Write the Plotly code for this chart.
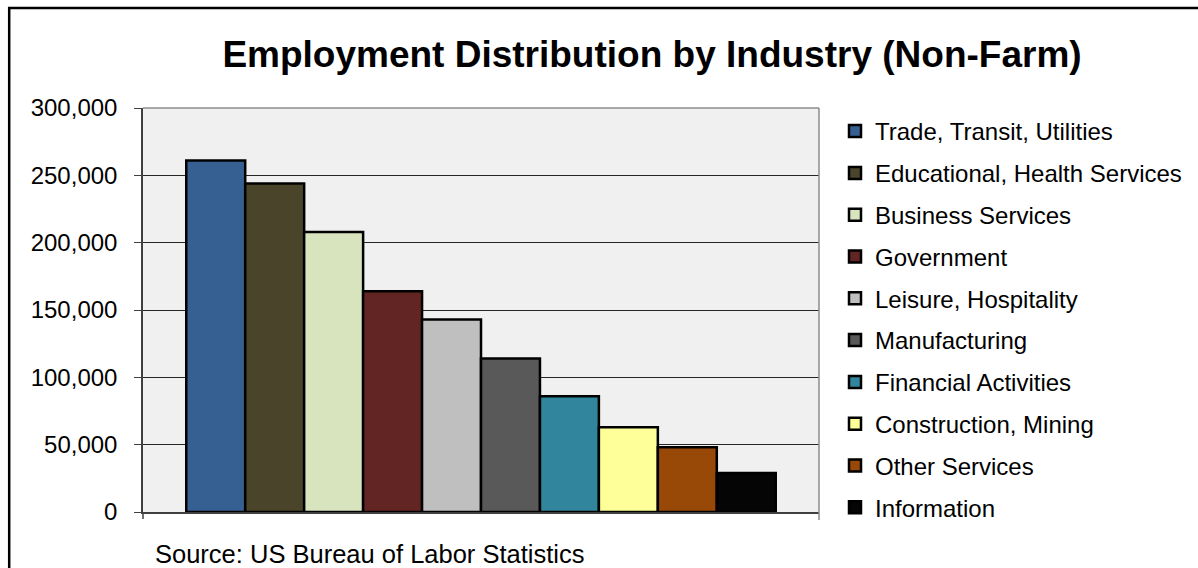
import plotly.graph_objects as go

# Non-farm employment by industry (number of jobs)
industries = [
    "Trade, Transit, Utilities",
    "Educational, Health Services",
    "Business Services",
    "Government",
    "Leisure, Hospitality",
    "Manufacturing",
    "Financial Activities",
    "Construction, Mining",
    "Other Services",
    "Information",
]
employment = [261000, 244000, 208000, 164000, 143000, 114000, 86000, 63000, 48000, 29000]
bar_colors = [
    "#376092", "#4a452a", "#d7e4bd", "#632523", "#bfbfbf",
    "#595959", "#31859c", "#ffff99", "#984807", "#050505",
]
y_ticks = [0, 50000, 100000, 150000, 200000, 250000, 300000]

FONT = "Liberation Sans, Arial, sans-serif"

fig = go.Figure()
for name, val, col in zip(industries, employment, bar_colors):
    fig.add_trace(go.Bar(
        x=[""], y=[val], name=name, legendgroup=name,
        marker=dict(color=col, line=dict(color="#000000", width=2.5)),
    ))

W, H = 1198, 568
L, R, T, B = 143, 378, 108, 56

fig.update_layout(
    width=W, height=H,
    margin=dict(l=L, r=R, t=T, b=B),
    paper_bgcolor="white",
    plot_bgcolor="#f0f0f0",
    barmode="group", bargap=0.128, bargroupgap=0,
    font=dict(family=FONT, color="#000000"),
    title=dict(
        text="<b>Employment Distribution by Industry (Non-Farm)</b>",
        font=dict(family=FONT, size=37, color="#000000"),
        xref="container", x=652 / W, xanchor="center",
        yref="container", y=1 - 54 / H, yanchor="middle",
    ),
    legend=dict(
        x=(835 - L) / (W - L - R), xanchor="left",
        y=1 - (109 - T) / (H - T - B), yanchor="top",
        font=dict(family=FONT, size=24, color="#000000"),
        traceorder="grouped", tracegroupgap=7.6,
        bgcolor="rgba(0,0,0,0)", borderwidth=0,
        maxheight=560,
    ),
    xaxis=dict(
        showticklabels=False, ticks="", showgrid=False,
        showline=True, linecolor="#404040", linewidth=1.5,
        zeroline=False, fixedrange=True,
    ),
    yaxis=dict(
        range=[0, 300000], tickvals=y_ticks, tickformat=",",
        tickfont=dict(family=FONT, size=24, color="#000000"),
        ticks="outside", ticklen=7, tickcolor="#404040", tickwidth=1,
        ticklabelstandoff=12,
        showgrid=True, gridcolor="#262626", gridwidth=1,
        showline=True, linecolor="#404040", linewidth=1.5,
        zeroline=False, fixedrange=True,
    ),
    showlegend=True,
)

pw, ph = W - L - R, H - T - B
px = lambda v: (v - L) / pw
py = lambda v: (H - B - v) / ph

shapes = [
    # gray frame on the top and right of the plot area
    dict(type="line", xref="paper", yref="paper", x0=0, x1=1, y0=1, y1=1,
         line=dict(color="#8c8c8c", width=1.5)),
    dict(type="line", xref="paper", yref="paper", x0=1, x1=1, y0=py(520), y1=1,
         line=dict(color="#8c8c8c", width=1.5)),
    # category boundary tick below the axis
    dict(type="line", xref="paper", yref="paper", x0=0, x1=0, y0=py(519), y1=0,
         line=dict(color="#404040", width=1.5)),
    # outer chart border
    dict(type="rect", xref="paper", yref="paper",
         x0=px(9), x1=px(1205), y0=py(575), y1=py(8),
         line=dict(color="#000000", width=2.5), fillcolor="rgba(0,0,0,0)", layer="above"),
]
fig.update_layout(shapes=shapes)

fig.add_annotation(
    text="Source: US Bureau of Labor Statistics",
    xref="paper", yref="paper", x=px(153), y=py(554),
    xanchor="left", yanchor="middle", showarrow=False,
    font=dict(family=FONT, size=25.5, color="#000000"),
)

fig.write_html("out.html", config={"displayModeBar": False})
